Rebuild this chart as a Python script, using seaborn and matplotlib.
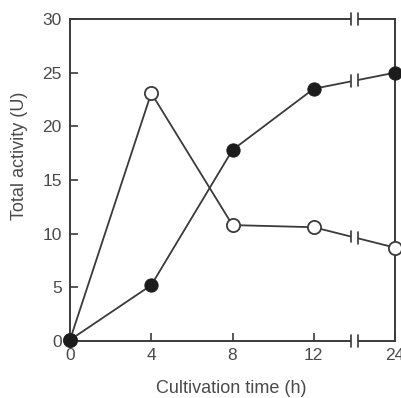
import matplotlib
matplotlib.use("Agg")
import matplotlib.pyplot as plt
import seaborn as sns
import numpy as np
import pandas as pd

# Data
time_labels = ["0", "4", "8", "12", "24"]
time_h = [0, 4, 8, 12, 24]
filled_activity = [0.1, 5.2, 17.8, 23.5, 25.0]
open_activity = [0.1, 23.1, 10.8, 10.6, 8.7]

# Broken axis: 24 h drawn one step after 12 h
positions = [i * 4 for i in range(len(time_h))]
break_pos = 14.0

sns.set_style("ticks")
plt.rcParams["font.family"] = ["Liberation Sans", "DejaVu Sans"]

ink = "#3a3a3a"
txt = "#4a4a4a"

fig = plt.figure(figsize=(4.01, 3.98), dpi=100)
ax = fig.add_axes([70 / 401, 57 / 398, 325 / 401, 322 / 398])

df = pd.DataFrame({
    "pos": positions * 2,
    "val": filled_activity + open_activity,
    "series": ["filled"] * 5 + ["open"] * 5,
})

sns.lineplot(data=df[df.series == "filled"], x="pos", y="val", ax=ax,
             color=ink, lw=1.3, marker="o", markersize=9.5,
             markerfacecolor="#1c1c1c", markeredgecolor="#1c1c1c",
             sort=False, clip_on=False, zorder=5)
sns.lineplot(data=df[df.series == "open"], x="pos", y="val", ax=ax,
             color=ink, lw=1.3, marker="o", markersize=9.5,
             markerfacecolor="white", markeredgecolor=ink, markeredgewidth=1.3,
             sort=False, clip_on=False, zorder=4)

ax.set_xlim(0, 16)
ax.set_ylim(0, 30)
ax.set_xticks(positions)
ax.set_xticklabels(time_labels)
ax.set_yticks([0, 5, 10, 15, 20, 25, 30])
ax.tick_params(axis="both", direction="in", length=6, width=1.2, colors=ink,
               labelcolor=txt, labelsize=12.5)
ax.tick_params(axis="y", pad=6)
ax.tick_params(axis="x", pad=5)
for s in ax.spines.values():
    s.set_color(ink)
    s.set_linewidth(1.4)

ax.set_xlabel("Cultivation time (h)", fontsize=13, color=txt)
ax.set_ylabel("Total activity (U)", fontsize=13, color=txt)
ax.xaxis.set_label_coords(0.495, -0.122)
ax.yaxis.set_label_coords(-0.128, 0.575)
if ax.legend_:
    ax.legend_.remove()

# break marks
half = 0.17
h = 0.55


def brk(y, slope=0.0, clip=False):
    xs = np.array([break_pos - half, break_pos + half])
    ys = y + slope * (xs - break_pos)
    ax.plot(xs, ys, color="white", lw=4, solid_capstyle="butt", zorder=6, clip_on=clip)
    for xx, yy in zip(xs, ys):
        ax.plot([xx, xx], [yy - h, yy + h], color=ink, lw=1.2, zorder=7, clip_on=False)


for vals in (filled_activity, open_activity):
    slope = (vals[4] - vals[3]) / (positions[4] - positions[3])
    yb = vals[3] + slope * (break_pos - positions[3])
    brk(yb, slope)
brk(0)
brk(30)

fig.savefig("out.png", dpi=100)
